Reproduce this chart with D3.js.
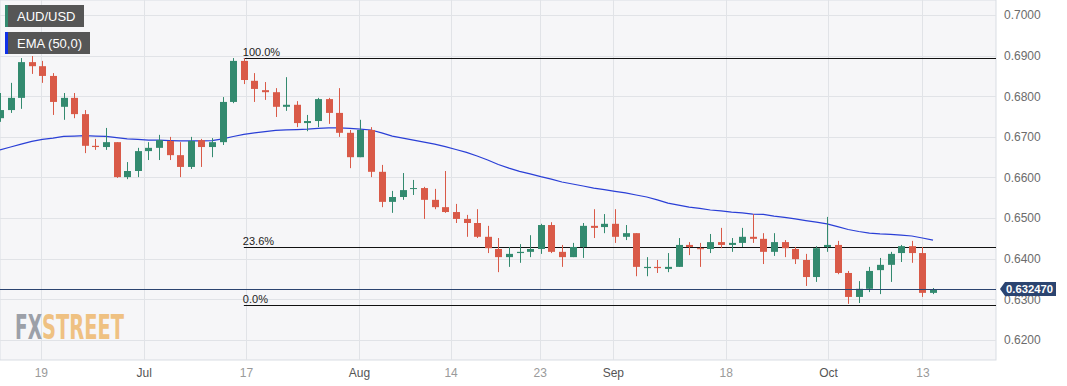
<!DOCTYPE html>
<html>
<head>
<meta charset="utf-8">
<script src="https://cdn.jsdelivr.net/npm/d3@7"></script>
<style>
  body { margin: 0; background: #fff; }
  text { font-family: "Liberation Sans", Arial, sans-serif; }
</style>
</head>
<body>
<script>
// daily candles, AUD/USD, mid June to 13 Oct
var opens  = [0.6746,0.6766,0.6796,0.6884,0.6874,0.6850,0.6774,0.6796,0.6756,0.6678,
              0.6675,0.6687,0.6601,0.6616,0.6665,0.6673,0.6690,0.6655,0.6626,0.6692,
              0.6675,0.6687,0.6786,0.6887,0.6838,0.6815,0.6810,0.6774,0.6779,0.6734,
              0.6739,0.6793,0.6759,0.6710,0.6650,0.6717,0.6614,0.6540,0.6552,0.6572,
              0.6574,0.6545,0.6527,0.6515,0.6498,0.6488,0.6454,0.6424,0.6404,0.6414,
              0.6417,0.6424,0.6483,0.6417,0.6404,0.6429,0.6481,0.6478,0.6486,0.6454,
              0.6463,0.6377,0.6380,0.6375,0.6380,0.6434,0.6426,0.6424,0.6441,0.6434,
              0.6439,0.6454,0.6449,0.6417,0.6441,0.6424,0.6397,0.6355,0.6429,0.6434,
              0.6365,0.6306,0.6326,0.6372,0.6385,0.6414,0.6431,0.6414,0.6316]
var highs  = [0.6808,0.6833,0.6894,0.6899,0.6887,0.6857,0.6808,0.6808,0.6766,0.6695,
              0.6722,0.6687,0.6638,0.6673,0.6687,0.6705,0.6700,0.6687,0.6700,0.6695,
              0.6697,0.6798,0.6894,0.6894,0.6857,0.6835,0.6820,0.6847,0.6788,0.6754,
              0.6796,0.6796,0.6820,0.6717,0.6742,0.6724,0.6631,0.6567,0.6611,0.6594,
              0.6577,0.6572,0.6616,0.6535,0.6508,0.6522,0.6481,0.6451,0.6429,0.6436,
              0.6458,0.6486,0.6490,0.6434,0.6439,0.6488,0.6522,0.6510,0.6522,0.6483,
              0.6463,0.6404,0.6397,0.6414,0.6451,0.6441,0.6439,0.6461,0.6476,0.6451,
              0.6476,0.6510,0.6463,0.6463,0.6446,0.6429,0.6412,0.6431,0.6503,0.6444,
              0.6370,0.6345,0.6380,0.6402,0.6417,0.6434,0.6444,0.6429,0.6328]
var lows   = [0.6737,0.6759,0.6769,0.6855,0.6833,0.6754,0.6742,0.6746,0.6660,0.6668,
              0.6668,0.6599,0.6596,0.6601,0.6643,0.6643,0.6643,0.6601,0.6621,0.6626,
              0.6650,0.6680,0.6783,0.6830,0.6786,0.6791,0.6749,0.6764,0.6724,0.6714,
              0.6724,0.6732,0.6700,0.6623,0.6650,0.6601,0.6527,0.6513,0.6545,0.6557,
              0.6498,0.6522,0.6513,0.6488,0.6454,0.6451,0.6414,0.6367,0.6380,0.6390,
              0.6404,0.6412,0.6414,0.6380,0.6404,0.6402,0.6451,0.6463,0.6439,0.6446,
              0.6357,0.6357,0.6365,0.6367,0.6380,0.6409,0.6380,0.6414,0.6426,0.6417,
              0.6429,0.6439,0.6387,0.6407,0.6404,0.6387,0.6333,0.6343,0.6417,0.6362,
              0.6289,0.6291,0.6318,0.6313,0.6343,0.6392,0.6390,0.6306,0.6313]
var closes = [0.6766,0.6796,0.6884,0.6874,0.6850,0.6786,0.6796,0.6756,0.6678,0.6675,
              0.6687,0.6601,0.6616,0.6665,0.6673,0.6692,0.6655,0.6626,0.6690,0.6675,
              0.6687,0.6786,0.6887,0.6840,0.6818,0.6810,0.6774,0.6779,0.6734,0.6739,
              0.6793,0.6759,0.6710,0.6650,0.6717,0.6614,0.6540,0.6552,0.6569,0.6574,
              0.6545,0.6527,0.6515,0.6498,0.6488,0.6454,0.6426,0.6404,0.6412,0.6417,
              0.6424,0.6483,0.6417,0.6404,0.6429,0.6481,0.6476,0.6486,0.6454,0.6463,
              0.6380,0.6380,0.6377,0.6380,0.6434,0.6429,0.6424,0.6441,0.6434,0.6439,
              0.6454,0.6449,0.6417,0.6441,0.6426,0.6399,0.6355,0.6426,0.6434,0.6365,
              0.6306,0.6326,0.6370,0.6385,0.6412,0.6431,0.6414,0.6316,0.63247]
var ema50  = [0.6668,0.6675,0.6682,0.6689,0.6694,0.6697,0.6701,0.6702,0.6703,0.6702,
              0.6701,0.6698,0.6695,0.6694,0.6692,0.6692,0.6691,0.6690,0.6690,0.6690,
              0.6691,0.6695,0.6701,0.6706,0.6710,0.6713,0.6716,0.6717,0.6718,0.6719,
              0.6721,0.6722,0.6722,0.6721,0.6719,0.6717,0.6710,0.6702,0.6697,0.6692,
              0.6687,0.6682,0.6676,0.6669,0.6662,0.6653,0.6643,0.6632,0.6623,0.6615,
              0.6609,0.6602,0.6596,0.6589,0.6584,0.6579,0.6574,0.6570,0.6566,0.6562,
              0.6557,0.6552,0.6545,0.6537,0.6532,0.6527,0.6524,0.6520,0.6518,0.6515,
              0.6513,0.6510,0.6509,0.6505,0.6502,0.6498,0.6494,0.6490,0.6486,0.6479,
              0.6472,0.6467,0.6463,0.6461,0.6460,0.6458,0.6456,0.6451,0.6446]

var priceTicks = [0.62, 0.63, 0.64, 0.65, 0.66, 0.67, 0.68, 0.69, 0.70]
var dateLabels = ["19", "Jul", "17", "Aug", "14", "23", "Sep", "18", "Oct", "13"]
var dateSlots  = [3.85, 13.55, 23.2, 33.85, 42.5, 50.9, 57.8, 68.45, 78.1, 87.0]
var monthLabels = ["Jul", "Aug", "Sep", "Oct"]

var fibLevels = [1, 0.236, 0]
var fibNames  = ["100.0%", "23.6%", "0.0%"]
var fibHigh = 0.6894, fibLow = 0.6285, fibStart = 23
var lastPrice = 0.63247

var W = 1067, H = 386
var plotW = 996, plotH = 360
var up = "#338a6f", down = "#d95a48"

var svg = d3.select("body").append("svg")
    .attr("width", W)
    .attr("height", H)

svg.append("rect")
    .attr("x", 0).attr("y", 0)
    .attr("width", plotW).attr("height", plotH)
    .attr("fill", "#f6f6f8")
    .attr("stroke", "#d9dde3")

var x = d3.scaleLinear().domain([0, 88]).range([0, 933])
var y = d3.scaleLinear().domain([0.62, 0.70]).range([340, 15])

// grid
svg.append("g").selectAll("line")
    .data(priceTicks)
    .enter().append("line")
    .attr("x1", 0).attr("x2", plotW)
    .attr("y1", d => Math.round(y(d)) + 0.5).attr("y2", d => Math.round(y(d)) + 0.5)
    .attr("stroke", "#e1e3e7")
svg.append("g").selectAll("line")
    .data(dateSlots)
    .enter().append("line")
    .attr("x1", d => Math.round(x(d)) + 0.5).attr("x2", d => Math.round(x(d)) + 0.5)
    .attr("y1", 0).attr("y2", plotH)
    .attr("stroke", "#e1e3e7")

// watermark
var wm = svg.append("text")
    .attr("x", 15).attr("y", 339)
    .attr("font-size", 33).attr("font-weight", "bold")
    .style("font-family", "'Liberation Sans Narrow', 'DejaVu Sans Condensed', sans-serif")
wm.append("tspan").text("FX")
    .attr("fill", "#9ca0a8").attr("textLength", 27).attr("lengthAdjust", "spacingAndGlyphs")
wm.append("tspan").text("STREET")
    .attr("x", 42)
    .attr("fill", "#efc182").attr("textLength", 82).attr("lengthAdjust", "spacingAndGlyphs")

// fibonacci levels
var fib = svg.append("g")
fibLevels.forEach(function(f, k) {
  var lv = fibLow + f * (fibHigh - fibLow)
  var yy = Math.round(y(lv)) + 0.5
  fib.append("line")
    .attr("x1", x(fibStart)).attr("x2", plotW)
    .attr("y1", yy).attr("y2", yy)
    .attr("stroke", "#111").attr("stroke-width", 1)
  fib.append("text")
    .attr("x", x(fibStart) - 1).attr("y", yy - 3)
    .attr("font-size", 11).attr("fill", "#222")
    .text(fibNames[k])
})

// EMA
var idx = d3.range(ema50.length)
svg.append("path")
    .datum(idx)
    .attr("fill", "none")
    .attr("stroke", "#2a3fd6")
    .attr("stroke-width", 1.2)
    .attr("d", d3.line().x(i => x(i)).y(i => y(ema50[i])))

// candles
var candles = svg.append("g").selectAll("g")
    .data(idx)
    .enter().append("g")
candles.append("line")
    .attr("x1", i => Math.round(x(i)) + 0.5).attr("x2", i => Math.round(x(i)) + 0.5)
    .attr("y1", i => y(highs[i])).attr("y2", i => y(lows[i]))
    .attr("stroke", i => closes[i] >= opens[i] ? up : down)
candles.append("rect")
    .attr("x", i => Math.round(x(i)) - 3)
    .attr("width", 7)
    .attr("y", i => y(Math.max(opens[i], closes[i])))
    .attr("height", i => Math.max(1, Math.abs(y(opens[i]) - y(closes[i]))))
    .attr("fill", i => closes[i] >= opens[i] ? up : down)

// last price line
var ly = Math.round(y(lastPrice)) + 0.5
svg.append("line")
    .attr("x1", 0).attr("x2", plotW)
    .attr("y1", ly).attr("y2", ly)
    .attr("stroke", "#2b4470")

// axes
var yAxis = d3.axisRight(y).tickValues(priceTicks).tickFormat(d3.format(".4f")).tickSize(0).tickPadding(8)
var gy = svg.append("g")
    .attr("transform", "translate(" + plotW + ",0)")
    .call(yAxis)
gy.select(".domain").remove()
gy.selectAll("text").attr("font-size", 12).attr("fill", "#6b6b6b").style("font-family", "'Liberation Sans', Arial, sans-serif")

var xAxis = d3.axisBottom(x).tickValues(dateSlots).tickFormat((d, i) => dateLabels[i]).tickSize(0).tickPadding(8)
var gx = svg.append("g")
    .attr("transform", "translate(0," + plotH + ")")
    .call(xAxis)
gx.select(".domain").remove()
gx.selectAll("text")
    .attr("font-size", 12)
    .style("font-family", "'Liberation Sans', Arial, sans-serif")
    .attr("fill", (d, i) => monthLabels.indexOf(dateLabels[i]) >= 0 ? "#555" : "#9a9a9a")

// last price tag
var tag = svg.append("g").attr("transform", "translate(1000," + (ly - 0.5) + ")")
tag.append("path")
    .attr("d", "M0,0 L5,-7 L56,-7 L56,7 L5,7 Z")
    .attr("fill", "#2b4470")
tag.append("text")
    .attr("x", 6).attr("y", 4)
    .attr("font-size", 11).attr("font-weight", "bold")
    .attr("fill", "#fff")
    .attr("textLength", 47).attr("lengthAdjust", "spacingAndGlyphs")
    .text(d3.format(".6f")(lastPrice))

// legend
var legend = [{name: "AUD/USD", color: up, y: 5, w: 79}, {name: "EMA (50,0)", color: "#1030e8", y: 32, w: 85}]
var lg = svg.append("g").selectAll("g")
    .data(legend)
    .enter().append("g")
lg.append("rect")
    .attr("x", 5).attr("y", d => d.y)
    .attr("width", d => d.w).attr("height", 22)
    .attr("fill", "#565656")
lg.append("rect")
    .attr("x", 5).attr("y", d => d.y)
    .attr("width", 3).attr("height", 22)
    .attr("fill", d => d.color)
lg.append("text")
    .attr("x", 17).attr("y", d => d.y + 16)
    .attr("font-size", 13)
    .attr("fill", "#fff")
    .text(d => d.name)
</script>
</body>
</html>
